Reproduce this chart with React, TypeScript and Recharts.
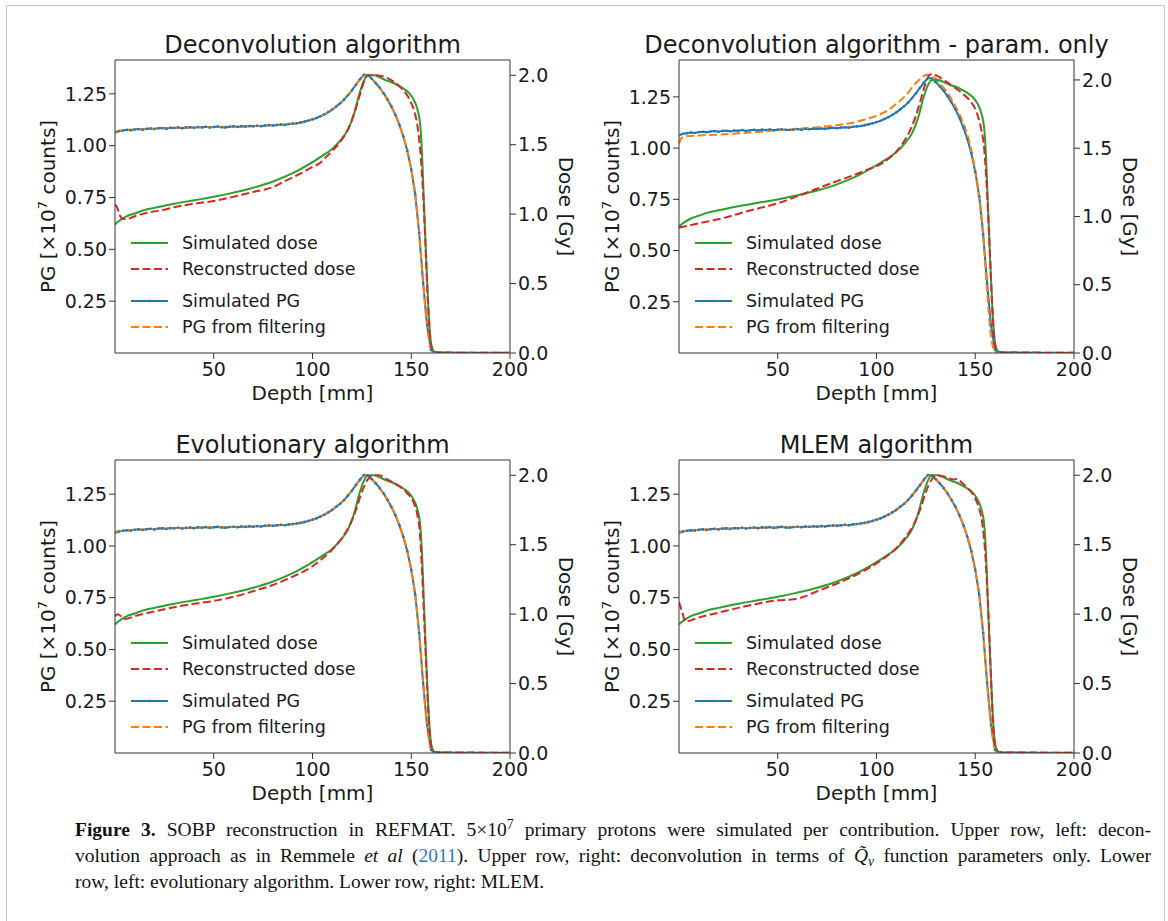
import { Line, LineChart, ReferenceLine, XAxis, YAxis } from "recharts";

const FONT = "'DejaVu Sans', sans-serif";
const SERIF = "'Liberation Serif', 'DejaVu Serif', serif";

const GREEN = "#2ca02c";
const RED = "#d62728";
const BLUE = "#1f77b4";
const ORANGE = "#ff7f0e";
const AXIS = "#333";
const DASH = "8 3.5";

const depthTicks = [50, 100, 150, 200];
const pgTicks = [0.25, 0.5, 0.75, 1.0, 1.25];
const doseTicks = [0, 0.5, 1.0, 1.5, 2.0];

// simulated dose [Gy], same in every panel
const doseDepth = [0, 1, 3, 6, 10, 15, 20, 30, 40, 50, 60, 70, 80, 90, 100, 105, 110, 114, 118, 121, 124, 126, 128, 131, 134, 137, 140, 143, 146, 149, 151, 153, 154.5, 155.5, 156.5, 157.5, 158.5, 159.5, 160.5, 162, 166, 200];
const simulatedDose = [0.925, 0.94, 0.96, 0.985, 1.005, 1.03, 1.045, 1.075, 1.1, 1.125, 1.155, 1.19, 1.235, 1.295, 1.375, 1.42, 1.47, 1.53, 1.61, 1.72, 1.88, 1.96, 2.0, 2.0, 1.985, 1.965, 1.95, 1.93, 1.905, 1.87, 1.83, 1.76, 1.65, 1.42, 1.05, 0.7, 0.38, 0.14, 0.04, 0.008, 0.003, 0.002];

// simulated PG [x1e7 counts], same in every panel
const pgDepth = [0, 2, 4, 6, 8, 10, 12, 14, 16, 18, 20, 22, 24, 26, 28, 30, 32, 34, 36, 38, 40, 42, 44, 46, 48, 50, 52, 54, 56, 58, 60, 62, 64, 66, 68, 70, 72, 74, 76, 78, 80, 82, 84, 86, 88, 90, 92, 94, 96, 98, 100, 102, 104, 106, 108, 110, 112, 114, 116, 118, 120, 122, 124, 126, 128, 130, 132, 134, 136, 138, 140, 142, 144, 146, 148, 150, 152, 154, 156, 158, 160, 162, 170, 180, 190, 200];
const simulatedPG = [1.062, 1.07, 1.073, 1.076, 1.074, 1.078, 1.08, 1.077, 1.081, 1.083, 1.08, 1.084, 1.085, 1.082, 1.086, 1.085, 1.088, 1.084, 1.087, 1.089, 1.086, 1.09, 1.088, 1.091, 1.087, 1.09, 1.092, 1.089, 1.088, 1.091, 1.093, 1.09, 1.094, 1.092, 1.095, 1.093, 1.096, 1.094, 1.097, 1.099, 1.097, 1.1, 1.102, 1.1, 1.104, 1.106, 1.108, 1.112, 1.116, 1.121, 1.127, 1.133, 1.142, 1.151, 1.162, 1.174, 1.189, 1.204, 1.222, 1.244, 1.268, 1.294, 1.32, 1.342, 1.34, 1.322, 1.302, 1.28, 1.253, 1.222, 1.188, 1.148, 1.1, 1.044, 0.975, 0.885, 0.765, 0.58, 0.34, 0.135, 0.015, 0.002, 0, 0, 0, 0];

// PG from filtering (deconvolution, evolutionary, MLEM)
const filtDepth = [0, 2, 5, 10, 20, 30, 40, 50, 60, 70, 80, 90, 95, 100, 105, 110, 115, 120, 123, 125, 126.5, 128, 130, 133, 136, 139, 142, 145, 148, 150, 152, 154, 156, 158, 160, 162, 166, 200];
const pgFiltered = [1.068, 1.071, 1.075, 1.078, 1.082, 1.086, 1.088, 1.09, 1.092, 1.094, 1.098, 1.105, 1.111, 1.126, 1.146, 1.174, 1.212, 1.267, 1.305, 1.332, 1.342, 1.34, 1.323, 1.29, 1.252, 1.205, 1.148, 1.073, 0.975, 0.885, 0.765, 0.58, 0.34, 0.135, 0.02, 0.003, 0, 0];

// PG from filtering (param. only)
const paramDepth = [0, 1, 3, 10, 20, 30, 40, 50, 60, 70, 80, 90, 95, 100, 105, 110, 115, 120, 123, 125.5, 127.5, 130, 133, 136, 139, 142, 145, 148, 150, 152, 154, 156, 158, 159.5, 161, 200];
const pgFilteredParam = [1.02, 1.045, 1.057, 1.062, 1.066, 1.072, 1.079, 1.087, 1.094, 1.102, 1.112, 1.128, 1.142, 1.158, 1.18, 1.215, 1.26, 1.318, 1.345, 1.358, 1.355, 1.34, 1.305, 1.27, 1.22, 1.165, 1.095, 0.99, 0.89, 0.76, 0.58, 0.3, 0.08, 0.015, 0, 0];

// reconstructed dose, one per panel
const deconvDepth = [0, 1, 2.5, 4, 6, 10, 15, 20, 26, 30, 40, 50, 60, 70, 75, 80, 85, 90, 95, 100, 104, 106, 110, 115, 118, 121, 124, 126, 128, 131, 135, 138, 141, 144, 147, 150, 152, 153.5, 155, 156, 157, 158, 159, 160, 161, 163, 200];
const deconvDose = [1.07, 1.05, 0.99, 0.965, 0.965, 0.985, 1.005, 1.02, 1.035, 1.05, 1.075, 1.095, 1.125, 1.16, 1.175, 1.195, 1.23, 1.265, 1.3, 1.34, 1.37, 1.4, 1.455, 1.54, 1.61, 1.72, 1.86, 1.95, 2.0, 2.0, 1.995, 1.98, 1.955, 1.92, 1.875, 1.8, 1.72, 1.6, 1.38, 1.15, 0.85, 0.5, 0.22, 0.06, 0.01, 0.003, 0.002];

const paramReconDepth = [0, 10, 22, 35, 50, 63, 77, 86, 95, 104, 113, 117, 120, 122.5, 124.5, 126.5, 128, 130, 133, 137, 140, 144, 147, 150.5, 153, 154.5, 155.5, 156.5, 157.5, 158.5, 159.5, 160.5, 162, 200];
const paramReconDose = [0.918, 0.95, 0.987, 1.04, 1.097, 1.165, 1.243, 1.29, 1.341, 1.4, 1.53, 1.63, 1.74, 1.86, 1.96, 2.03, 2.044, 2.035, 2.01, 1.97, 1.94, 1.895, 1.853, 1.77, 1.64, 1.5, 1.3, 1.03, 0.7, 0.37, 0.13, 0.03, 0.005, 0.002];

const evoDepth = [0, 1.5, 3, 5, 10, 20, 30, 40, 50, 60, 70, 80, 90, 100, 105, 110, 115, 119, 122, 125, 128, 131, 134, 137, 140, 144, 148, 151, 153, 154.5, 155.5, 156.5, 157.5, 158.5, 159.5, 160.5, 162, 200];
const evoDose = [0.985, 1.0, 0.985, 0.965, 0.985, 1.02, 1.05, 1.075, 1.095, 1.125, 1.165, 1.21, 1.27, 1.345, 1.4, 1.465, 1.55, 1.645, 1.75, 1.88, 1.97, 2.0, 2.0, 1.975, 1.955, 1.92, 1.87, 1.81, 1.72, 1.56, 1.3, 0.98, 0.65, 0.34, 0.12, 0.03, 0.005, 0.002];

const mlemDepth = [0, 1.5, 3.5, 6, 10, 20, 30, 40, 50, 57, 62, 70, 80, 90, 100, 105, 110, 115, 119, 122, 125, 128, 130, 133, 136, 139, 141, 143, 146, 149, 151.5, 153.5, 155, 156.2, 157.3, 158.3, 159.3, 160.3, 162, 200];
const mlemDose = [1.088, 1.02, 0.945, 0.955, 0.975, 1.01, 1.045, 1.075, 1.1, 1.105, 1.12, 1.165, 1.22, 1.285, 1.365, 1.415, 1.475, 1.56, 1.65, 1.75, 1.88, 1.97, 2.0, 1.995, 1.985, 1.97, 1.975, 1.95, 1.91, 1.86, 1.78, 1.66, 1.45, 1.15, 0.78, 0.43, 0.15, 0.04, 0.005, 0.002];

type Pt = { d: number; v: number };
const zip = (depth: number[], values: number[]): Pt[] =>
  depth.map((d, i) => ({ d, v: values[i] }));

const PLOT_W = 395;
const PLOT_H = 293;
const AX_L = 85;
const AX_R = 80;
const PAD_T = 40;
const AX_B = 67;

const legendRows = [
  { label: "Simulated dose", color: GREEN, dash: undefined, marker: false, dy: 183 },
  { label: "Reconstructed dose", color: RED, dash: DASH, marker: false, dy: 209 },
  { label: "Simulated PG", color: BLUE, dash: undefined, marker: true, dy: 241 },
  { label: "PG from filtering", color: ORANGE, dash: DASH, marker: false, dy: 267 },
];

type PanelProps = {
  title: string;
  left: number;
  top: number;
  pgMax: number;
  doseMax: number;
  recon: Pt[];
  filtered: Pt[];
};

const simDose = zip(doseDepth, simulatedDose);
const simPG = zip(pgDepth, simulatedPG);

function Panel({ title, left, top, pgMax, doseMax, recon, filtered }: PanelProps) {
  const W = AX_L + PLOT_W + AX_R;
  const H = PAD_T + PLOT_H + AX_B;
  const tick = { fill: "#1a1a1a", fontSize: 19, fontFamily: FONT };

  return (
    <div style={{ position: "absolute", left: left - AX_L, top: top - PAD_T, width: W, height: H }}>
      <LineChart width={W} height={H} margin={{ top: PAD_T, right: 0, bottom: 0, left: 0 }}>
        <XAxis
          dataKey="d"
          type="number"
          domain={[0, 200]}
          ticks={depthTicks}
          interval={0}
          allowDataOverflow
          height={AX_B}
          tickSize={6}
          tickMargin={4}
          stroke={AXIS}
          tick={tick}
        />
        <YAxis
          yAxisId="pg"
          orientation="left"
          width={AX_L}
          domain={[0, pgMax]}
          ticks={pgTicks}
          interval={0}
          allowDataOverflow
          tickSize={6}
          stroke={AXIS}
          tick={tick}
          tickFormatter={(v: number) => v.toFixed(2)}
        />
        <YAxis
          yAxisId="dose"
          orientation="right"
          width={AX_R}
          domain={[0, doseMax]}
          ticks={doseTicks}
          interval={0}
          allowDataOverflow
          tickSize={6}
          stroke={AXIS}
          tick={tick}
          tickFormatter={(v: number) => v.toFixed(1)}
        />
        <ReferenceLine yAxisId="pg" y={pgMax} stroke={AXIS} strokeWidth={1} />
        <Line
          yAxisId="pg"
          data={simPG}
          dataKey="v"
          type="linear"
          stroke={BLUE}
          strokeWidth={2}
          dot={{ r: 1.3, fill: BLUE, stroke: "none" }}
          activeDot={false}
          isAnimationActive={false}
        />
        <Line
          yAxisId="pg"
          data={filtered}
          dataKey="v"
          type="monotone"
          stroke={ORANGE}
          strokeWidth={2}
          strokeDasharray={DASH}
          dot={false}
          activeDot={false}
          isAnimationActive={false}
        />
        <Line
          yAxisId="dose"
          data={simDose}
          dataKey="v"
          type="monotone"
          stroke={GREEN}
          strokeWidth={2}
          dot={false}
          activeDot={false}
          isAnimationActive={false}
        />
        <Line
          yAxisId="dose"
          data={recon}
          dataKey="v"
          type="monotone"
          stroke={RED}
          strokeWidth={2}
          strokeDasharray={DASH}
          dot={false}
          activeDot={false}
          isAnimationActive={false}
        />
      </LineChart>

      <svg
        width={W}
        height={H}
        style={{ position: "absolute", left: 0, top: 0, pointerEvents: "none", overflow: "visible" }}
        fontFamily={FONT}
        fill="#1a1a1a"
      >
        <text x={AX_L + PLOT_W / 2} y={PAD_T - 7} fontSize={24} textAnchor="middle">
          {title}
        </text>
        <text
          transform={`translate(${AX_L - 60}, ${PAD_T + PLOT_H / 2}) rotate(-90)`}
          fontSize={20}
          textAnchor="middle"
        >
          PG [×10<tspan dy={-8} fontSize={13}>7</tspan>
          <tspan dy={8}> counts]</tspan>
        </text>
        <text
          transform={`translate(${AX_L + PLOT_W + 49}, ${PAD_T + PLOT_H / 2}) rotate(90)`}
          fontSize={20}
          textAnchor="middle"
        >
          Dose [Gy]
        </text>
        <text x={AX_L + PLOT_W / 2} y={PAD_T + PLOT_H + 47} fontSize={20} textAnchor="middle">
          Depth [mm]
        </text>
        {legendRows.map((row) => (
          <g key={row.label}>
            <line
              x1={AX_L + 16}
              x2={AX_L + 53}
              y1={PAD_T + row.dy}
              y2={PAD_T + row.dy}
              stroke={row.color}
              strokeWidth={2}
              strokeDasharray={row.dash}
            />
            {row.marker && <circle cx={AX_L + 34.5} cy={PAD_T + row.dy} r={1.3} fill={row.color} />}
            <text x={AX_L + 67} y={PAD_T + row.dy} fontSize={17.5} dominantBaseline="central">
              {row.label}
            </text>
          </g>
        ))}
      </svg>
    </div>
  );
}

const lineStyle = { position: "absolute" as const, left: 75, width: 1076, whiteSpace: "nowrap" as const, lineHeight: "26px" };

export default function App() {
  return (
    <div
      style={{
        position: "absolute",
        left: 0,
        top: 0,
        width: 1168,
        height: 921,
        overflow: "hidden",
        background: "#fff",
      }}
    >
      <div
        style={{
          position: "absolute",
          left: 6,
          top: 5,
          width: 1157,
          height: 1000,
          border: "1.5px solid #c8c8c8",
        }}
      />
      <Panel title="Deconvolution algorithm" left={115} top={60} pgMax={1.413} doseMax={2.11} recon={zip(deconvDepth, deconvDose)} filtered={zip(filtDepth, pgFiltered)} />
      <Panel title="Deconvolution algorithm - param. only" left={679} top={60} pgMax={1.43} doseMax={2.146} recon={zip(paramReconDepth, paramReconDose)} filtered={zip(paramDepth, pgFilteredParam)} />
      <Panel title="Evolutionary algorithm" left={115} top={460} pgMax={1.415} doseMax={2.11} recon={zip(evoDepth, evoDose)} filtered={zip(filtDepth, pgFiltered)} />
      <Panel title="MLEM algorithm" left={679} top={460} pgMax={1.415} doseMax={2.11} recon={zip(mlemDepth, mlemDose)} filtered={zip(filtDepth, pgFiltered)} />

      <div style={{ fontFamily: SERIF, fontSize: 19.5, color: "#111" }}>
        <div style={{ ...lineStyle, top: 817, textAlign: "justify", textAlignLast: "justify" }}>
          <b>Figure 3.</b> SOBP reconstruction in REFMAT. 5×10
          <span style={{ fontSize: "0.7em", position: "relative", top: "-0.5em" }}>7</span> primary protons were
          simulated per contribution. Upper row, left: decon-
        </div>
        <div style={{ ...lineStyle, top: 843, textAlign: "justify", textAlignLast: "justify" }}>
          volution approach as in Remmele <i>et al</i> (<span style={{ color: "#2b7bb9" }}>2011</span>). Upper row,
          right: deconvolution in terms of <i>Q̃</i>
          <span style={{ fontSize: "0.7em", position: "relative", top: "0.3em" }}>
            <i>ν</i>
          </span>{" "}
          function parameters only. Lower
        </div>
        <div style={{ ...lineStyle, top: 869 }}>
          row, left: evolutionary algorithm. Lower row, right: MLEM.
        </div>
      </div>
    </div>
  );
}
